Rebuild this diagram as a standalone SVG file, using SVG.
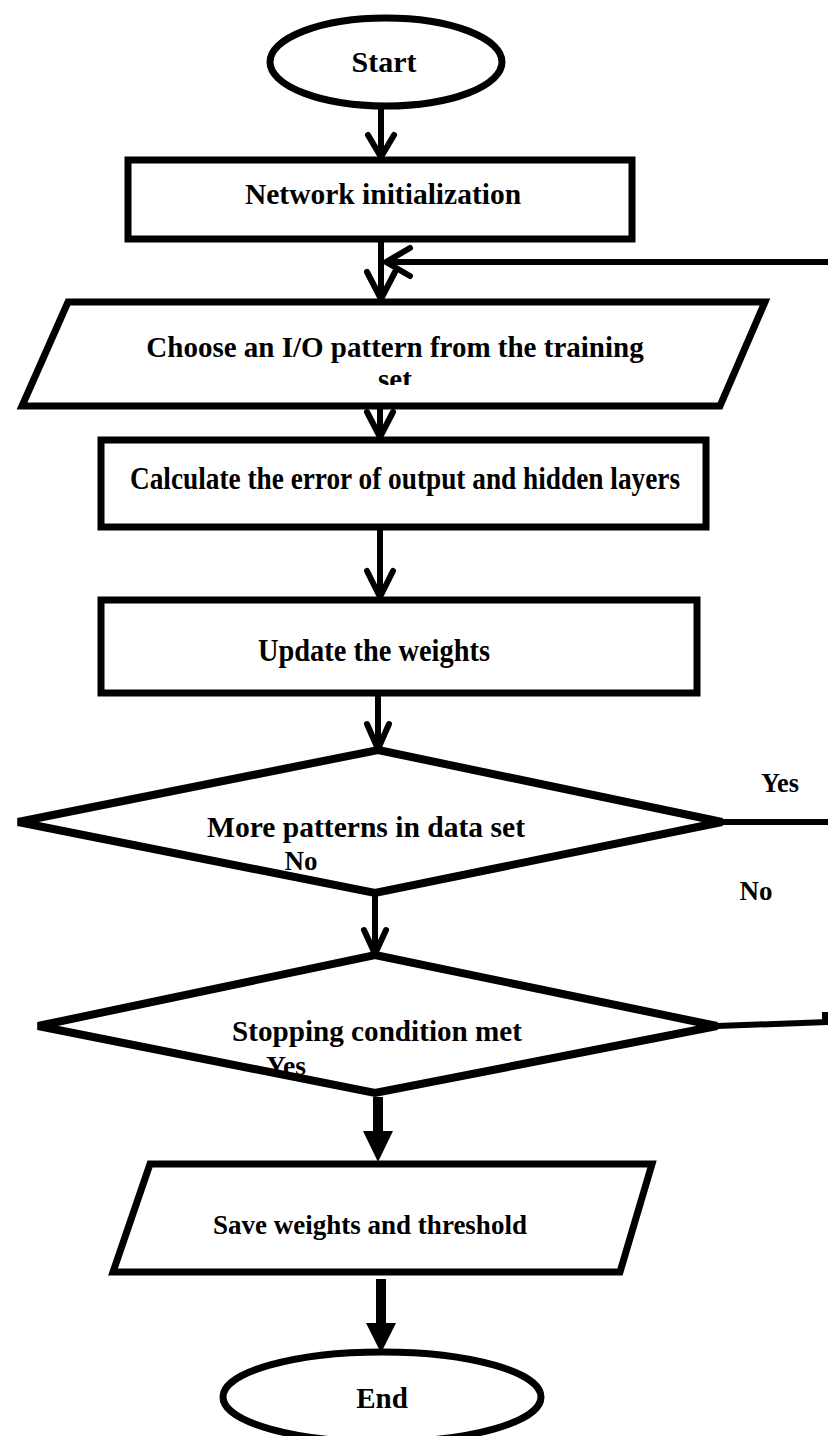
<svg xmlns="http://www.w3.org/2000/svg" width="828" height="1436" viewBox="0 0 828 1436">
  <style>
    .shape { fill: #fff; stroke: #000; stroke-width: 7; stroke-linejoin: miter; }
    .term { fill: #fff; stroke: #000; stroke-width: 7; }
    .dia { fill: #fff; stroke: #000; stroke-width: 8; stroke-linejoin: miter; }
    .lbl { font-family: "Liberation Serif", "Times New Roman", serif; font-weight: bold; fill: #000; text-anchor: middle; }
    .wire { fill: none; stroke: #000; stroke-width: 6; }
    .chev { fill: none; stroke: #000; stroke-width: 6; stroke-linecap: round; stroke-linejoin: round; }
    .head { fill: #000; stroke: none; }
  </style>
  <defs>
    <clipPath id="clipChoose">
      <rect x="0" y="300" width="828" height="85"/>
    </clipPath>
  </defs>
  <rect width="828" height="1436" fill="#fff"/>

  <!-- connectors -->
  <g id="connectors">
    <!-- Start -> Network initialization -->
    <line class="wire" x1="381" y1="107" x2="381" y2="156"/>
    <polyline class="chev" points="368,135 381,157 394,135"/>
    <!-- Network initialization -> Choose pattern -->
    <line class="wire" x1="381" y1="240" x2="381" y2="298"/>
    <polyline class="chev" points="367,272 381,299 395,272"/>
    <!-- loop back from the decision -->
    <line class="wire" x1="828" y1="262" x2="386" y2="262"/>
    <polyline class="chev" points="410,248 386,262 410,276"/>
    <!-- Choose pattern -> Calculate error -->
    <line class="wire" x1="380" y1="408" x2="380" y2="436"/>
    <polyline class="chev" points="367,412 380,437 393,412"/>
    <!-- Calculate error -> Update weights -->
    <line class="wire" x1="380" y1="528" x2="380" y2="596"/>
    <polyline class="chev" points="367,571 380,597 393,571"/>
    <!-- Update weights -> More patterns -->
    <line class="wire" x1="378" y1="695" x2="378" y2="748"/>
    <polyline class="chev" points="367,724 378,749 389,724"/>
    <!-- More patterns -> Stopping condition (No) -->
    <line class="wire" x1="375" y1="893" x2="375" y2="953"/>
    <polyline class="chev" points="364,930 375,954 386,930"/>
    <!-- More patterns (Yes) -> right edge -->
    <line class="wire" x1="722" y1="822" x2="828" y2="822"/>
    <!-- Stopping condition (No) -> right edge -->
    <line class="wire" x1="717" y1="1026" x2="828" y2="1022"/>
    <line class="wire" x1="825" y1="1012" x2="825" y2="1024"/>
    <!-- Stopping condition (Yes) -> Save -->
    <rect x="373" y="1097" width="10" height="36" fill="#000"/>
    <polygon class="head" points="363,1131 393,1131 378,1162"/>
    <!-- Save -> End -->
    <rect x="376" y="1279" width="10" height="46" fill="#000"/>
    <polygon class="head" points="366,1323 396,1323 381,1353"/>
  </g>

  <g id="start">
    <ellipse class="term" cx="386" cy="62" rx="116" ry="44"/>
    <text class="lbl" x="384" y="72" font-size="30">Start</text>
  </g>

  <g id="network-init">
    <rect class="shape" x="128" y="160" width="504" height="79"/>
    <text class="lbl" x="383" y="204" font-size="29.5">Network initialization</text>
  </g>

  <g id="choose-pattern">
    <polygon class="shape" points="68,302 765,302 720,406 22,406"/>
    <g clip-path="url(#clipChoose)">
      <text class="lbl" x="395" y="357" font-size="29">Choose an I/O pattern from the training</text>
      <text class="lbl" x="395" y="389" font-size="29">set</text>
    </g>
  </g>

  <g id="calc-error">
    <rect class="shape" x="101" y="440" width="605" height="87"/>
    <text class="lbl" x="405" y="489" font-size="31" textLength="550" lengthAdjust="spacingAndGlyphs">Calculate the error of output and hidden layers</text>
  </g>

  <g id="update-weights">
    <rect class="shape" x="101" y="600" width="596" height="93"/>
    <text class="lbl" x="374" y="661" font-size="31" textLength="232" lengthAdjust="spacingAndGlyphs">Update the weights</text>
  </g>

  <g id="more-patterns">
    <polygon class="dia" points="378,750 722,822 375,893 18,822"/>
    <text class="lbl" x="366" y="837" font-size="30" textLength="318" lengthAdjust="spacingAndGlyphs">More patterns in data set</text>
  </g>

  <g id="stopping">
    <polygon class="dia" points="375,955 717,1026 375,1093 38,1026"/>
    <text class="lbl" x="377" y="1041" font-size="30" textLength="290" lengthAdjust="spacingAndGlyphs">Stopping condition met</text>
  </g>

  <g id="save">
    <polygon class="shape" points="150,1164 652,1164 620,1272 113,1272"/>
    <text class="lbl" x="370" y="1234" font-size="27">Save weights and threshold</text>
  </g>

  <g id="end">
    <ellipse class="term" cx="382" cy="1397" rx="159" ry="45"/>
    <text class="lbl" x="382" y="1408" font-size="29">End</text>
  </g>

  <g id="branch-labels">
    <text class="lbl" x="780" y="792" font-size="27" textLength="38" lengthAdjust="spacingAndGlyphs">Yes</text>
    <text class="lbl" x="301" y="870" font-size="27" textLength="33" lengthAdjust="spacingAndGlyphs">No</text>
    <text class="lbl" x="756" y="900" font-size="27" textLength="33" lengthAdjust="spacingAndGlyphs">No</text>
    <text class="lbl" x="286" y="1075" font-size="27" textLength="40" lengthAdjust="spacingAndGlyphs">Yes</text>
  </g>
</svg>
